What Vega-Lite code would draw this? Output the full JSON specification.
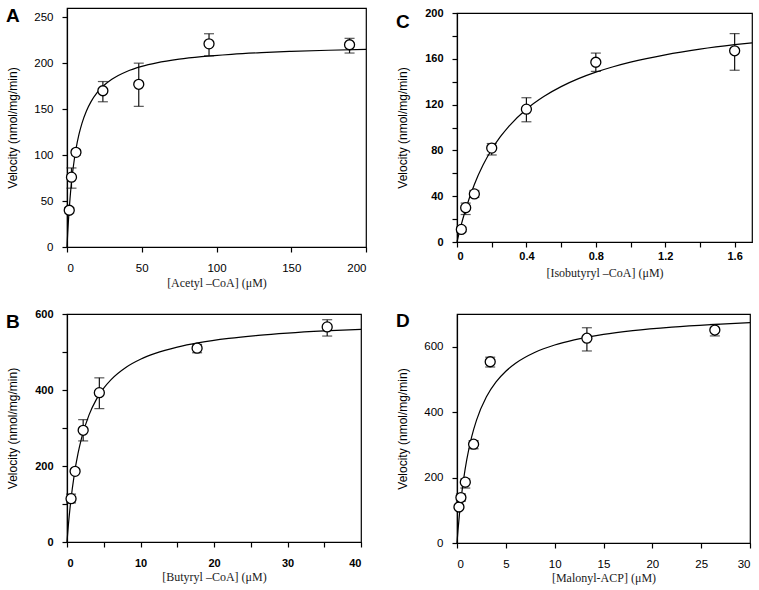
{
  "$schema": "https://vega.github.io/schema/vega-lite/v6.json",
  "background": "white",
  "padding": {"left": 5, "top": 6, "right": 5, "bottom": 4},
  "columns": 2,
  "spacing": {"column": 91, "row": 67},
  "bounds": "flush",
  "center": {"row": true},
  "config": {
    "view": {"stroke": "black", "strokeWidth": 1.2},
    "axis": {"grid": false, "domainColor": "black", "domainWidth": 1.2, "tickColor": "black", "tickWidth": 1.2, "tickSize": 5, "labelColor": "black", "titleColor": "black", "labelFont": "Liberation Sans", "labelFontSize": 11.5, "titleFontWeight": "normal", "labelOverlap": false},
    "axisX": {"titleFont": "Liberation Serif", "titleFontSize": 12, "titleColor": "#1a1a1a"},
    "axisY": {"titleFont": "Liberation Sans", "titleFontSize": 12, "labelPadding": 9, "minExtent": 40, "maxExtent": 40, "titlePadding": 8},
    "title": {"font": "Liberation Sans", "fontSize": 19, "fontWeight": "bold", "anchor": "start", "frame": "bounds", "baseline": "alphabetic", "color": "black"}
  },
  "datasets": {
    "ptsA": [
      {"x": 1.5, "y": 40, "lo": 37, "hi": 43},
      {"x": 3, "y": 76, "lo": 64, "hi": 86},
      {"x": 6, "y": 103, "lo": 100, "hi": 106},
      {"x": 24, "y": 170, "lo": 158, "hi": 180},
      {"x": 48, "y": 177, "lo": 153, "hi": 200},
      {"x": 95, "y": 221, "lo": 208, "hi": 232},
      {"x": 189, "y": 220, "lo": 211, "hi": 227}
    ],
    "fitA": [
      {"x": 0, "y": 0}, {"x": 0.5, "y": 15.86}, {"x": 1, "y": 29.6}, {"x": 2, "y": 52.24}, {"x": 3, "y": 70.1},
      {"x": 4, "y": 84.57}, {"x": 6, "y": 106.56}, {"x": 8, "y": 122.48}, {"x": 10, "y": 134.55}, {"x": 13, "y": 148.0},
      {"x": 16, "y": 157.87}, {"x": 20, "y": 167.55}, {"x": 25, "y": 176.19}, {"x": 30, "y": 182.47}, {"x": 40, "y": 190.97},
      {"x": 50, "y": 196.46}, {"x": 60, "y": 200.3}, {"x": 75, "y": 204.29}, {"x": 90, "y": 207.05}, {"x": 110, "y": 209.61},
      {"x": 130, "y": 211.43}, {"x": 150, "y": 212.78}, {"x": 175, "y": 214.05}, {"x": 200, "y": 215.01}
    ],
    "ptsC": [
      {"x": 0.025, "y": 11, "lo": 9, "hi": 13},
      {"x": 0.05, "y": 30, "lo": 24, "hi": 34},
      {"x": 0.1, "y": 42, "lo": 39, "hi": 45},
      {"x": 0.2, "y": 82, "lo": 76, "hi": 86},
      {"x": 0.4, "y": 116, "lo": 105, "hi": 126},
      {"x": 0.8, "y": 157, "lo": 149, "hi": 165},
      {"x": 1.6, "y": 167, "lo": 150, "hi": 182}
    ],
    "fitC": [
      {"x": 0, "y": 0}, {"x": 0.02, "y": 12.5}, {"x": 0.05, "y": 28.64}, {"x": 0.1, "y": 50.27}, {"x": 0.15, "y": 67.19},
      {"x": 0.2, "y": 80.79}, {"x": 0.25, "y": 91.95}, {"x": 0.3, "y": 101.28}, {"x": 0.4, "y": 116.0}, {"x": 0.5, "y": 127.07},
      {"x": 0.6, "y": 135.71}, {"x": 0.7, "y": 142.64}, {"x": 0.8, "y": 148.31}, {"x": 0.9, "y": 153.05}, {"x": 1.0, "y": 157.07},
      {"x": 1.2, "y": 163.5}, {"x": 1.4, "y": 168.43}, {"x": 1.6, "y": 172.32}, {"x": 1.7, "y": 173.98}
    ],
    "ptsB": [
      {"x": 0.55, "y": 114, "lo": 103, "hi": 126},
      {"x": 1.1, "y": 186, "lo": 180, "hi": 192},
      {"x": 2.2, "y": 294, "lo": 266, "hi": 322},
      {"x": 4.4, "y": 393, "lo": 351, "hi": 432},
      {"x": 17.7, "y": 510, "lo": 498, "hi": 520},
      {"x": 35.4, "y": 566, "lo": 542, "hi": 585}
    ],
    "fitB": [
      {"x": 0, "y": 0}, {"x": 0.2, "y": 47.17}, {"x": 0.5, "y": 105.34}, {"x": 1, "y": 178.85}, {"x": 1.5, "y": 233.07},
      {"x": 2, "y": 274.71}, {"x": 3, "y": 334.46}, {"x": 4, "y": 375.28}, {"x": 5, "y": 404.92}, {"x": 6, "y": 427.44},
      {"x": 8, "y": 459.36}, {"x": 10, "y": 480.91}, {"x": 12, "y": 496.44}, {"x": 15, "y": 513.0}, {"x": 18, "y": 524.67},
      {"x": 22, "y": 535.75}, {"x": 26, "y": 543.7}, {"x": 30, "y": 549.67}, {"x": 35, "y": 555.35}, {"x": 40, "y": 559.68}
    ],
    "ptsD": [
      {"x": 0.2, "y": 110, "lo": 104, "hi": 116},
      {"x": 0.4, "y": 139, "lo": 128, "hi": 150},
      {"x": 0.85, "y": 186, "lo": 168, "hi": 196},
      {"x": 1.7, "y": 302, "lo": 288, "hi": 313},
      {"x": 3.4, "y": 554, "lo": 538, "hi": 568},
      {"x": 13.3, "y": 626, "lo": 587, "hi": 658},
      {"x": 26.4, "y": 651, "lo": 633, "hi": 668}
    ],
    "fitD": [
      {"x": 0, "y": 0}, {"x": 0.1, "y": 37.58}, {"x": 0.2, "y": 71.4}, {"x": 0.4, "y": 129.82}, {"x": 0.7, "y": 199.92},
      {"x": 1, "y": 255.0}, {"x": 1.5, "y": 324.55}, {"x": 2, "y": 375.79}, {"x": 3, "y": 446.25}, {"x": 4, "y": 492.41},
      {"x": 5, "y": 525.0}, {"x": 6, "y": 549.23}, {"x": 8, "y": 582.86}, {"x": 10, "y": 605.08}, {"x": 12, "y": 620.87},
      {"x": 15, "y": 637.5}, {"x": 18, "y": 649.09}, {"x": 22, "y": 660.0}, {"x": 26, "y": 667.77}, {"x": 30, "y": 673.58}
    ]
  },
  "concat": [
    {
      "width": 299, "height": 239,
      "title": {"text": "A", "offset": -18},
      "encoding": {
        "x": {"field": "x", "type": "quantitative", "scale": {"domain": [0, 200], "nice": false},
              "axis": {"title": "[Acetyl –CoA] (μM)", "values": [0, 50, 100, 150, 200], "labelPadding": 10, "titlePadding": 4}},
        "y": {"field": "y", "type": "quantitative", "scale": {"domain": [0, 260], "nice": false},
              "axis": {"title": "Velocity (nmol/mg/min)", "values": [0, 50, 100, 150, 200, 250]}}
      },
      "layer": [
        {"data": {"name": "ptsA"}, "mark": {"type": "rule", "color": "#111", "strokeWidth": 1.2},
         "encoding": {"y": {"field": "lo", "type": "quantitative", "scale": {"domain": [0, 260], "nice": false}, "title": "Velocity (nmol/mg/min)"}, "y2": {"field": "hi"}}},
        {"data": {"name": "ptsA"}, "mark": {"type": "tick", "orient": "horizontal", "size": 10, "thickness": 1.2, "color": "#111"},
         "encoding": {"y": {"field": "lo", "type": "quantitative", "scale": {"domain": [0, 260], "nice": false}, "title": "Velocity (nmol/mg/min)"}}},
        {"data": {"name": "ptsA"}, "mark": {"type": "tick", "orient": "horizontal", "size": 10, "thickness": 1.2, "color": "#111"},
         "encoding": {"y": {"field": "hi", "type": "quantitative", "scale": {"domain": [0, 260], "nice": false}, "title": "Velocity (nmol/mg/min)"}}},
        {"data": {"name": "fitA"}, "mark": {"type": "line", "color": "black", "strokeWidth": 1.2, "interpolate": "monotone"}, "encoding": {}},
        {"data": {"name": "ptsA"}, "mark": {"type": "point", "shape": "circle", "filled": false, "fill": "white", "fillOpacity": 1, "stroke": "black", "strokeWidth": 1.3, "size": 100, "opacity": 1}, "encoding": {}}
      ]
    },
    {
      "width": 295, "height": 229,
      "title": {"text": "C", "offset": -25},
      "encoding": {
        "x": {"field": "x", "type": "quantitative", "scale": {"domain": [0, 1.7], "nice": false},
              "axis": {"title": "[Isobutyryl –CoA] (μM)", "values": [0, 0.2, 0.4, 0.6, 0.8, 1.0, 1.2, 1.4, 1.6], "labelExpr": "round(datum.value*10) % 4 === 0 ? format(datum.value, '~g') : ''", "labelFontWeight": "bold", "labelFontSize": 11, "labelPadding": 3, "titlePadding": 6}},
        "y": {"field": "y", "type": "quantitative", "scale": {"domain": [0, 200], "nice": false},
              "axis": {"title": "Velocity (nmol/mg/min)", "values": [0, 20, 40, 60, 80, 100, 120, 140, 160, 180, 200], "labelExpr": "round(datum.value) % 40 === 0 ? datum.label : ''", "labelFontWeight": "bold", "labelFontSize": 11}}
      },
      "layer": [
        {"data": {"name": "ptsC"}, "mark": {"type": "rule", "color": "#111", "strokeWidth": 1.2},
         "encoding": {"y": {"field": "lo", "type": "quantitative", "scale": {"domain": [0, 200], "nice": false}, "title": "Velocity (nmol/mg/min)"}, "y2": {"field": "hi"}}},
        {"data": {"name": "ptsC"}, "mark": {"type": "tick", "orient": "horizontal", "size": 10, "thickness": 1.2, "color": "#111"},
         "encoding": {"y": {"field": "lo", "type": "quantitative", "scale": {"domain": [0, 200], "nice": false}, "title": "Velocity (nmol/mg/min)"}}},
        {"data": {"name": "ptsC"}, "mark": {"type": "tick", "orient": "horizontal", "size": 10, "thickness": 1.2, "color": "#111"},
         "encoding": {"y": {"field": "hi", "type": "quantitative", "scale": {"domain": [0, 200], "nice": false}, "title": "Velocity (nmol/mg/min)"}}},
        {"data": {"name": "fitC"}, "mark": {"type": "line", "color": "black", "strokeWidth": 1.2, "interpolate": "monotone"}, "encoding": {}},
        {"data": {"name": "ptsC"}, "mark": {"type": "point", "shape": "circle", "filled": false, "fill": "white", "fillOpacity": 1, "stroke": "black", "strokeWidth": 1.3, "size": 100, "opacity": 1}, "encoding": {}}
      ]
    },
    {
      "width": 294, "height": 228,
      "title": {"text": "B", "offset": -24},
      "encoding": {
        "x": {"field": "x", "type": "quantitative", "scale": {"domain": [0, 40], "nice": false},
              "axis": {"title": "[Butyryl –CoA] (μM)", "values": [0, 5, 10, 15, 20, 25, 30, 35, 40], "labelExpr": "round(datum.value) % 10 === 0 ? datum.label : ''", "labelFontWeight": "bold", "labelFontSize": 11, "labelPadding": 10, "titlePadding": 3}},
        "y": {"field": "y", "type": "quantitative", "scale": {"domain": [0, 600], "nice": false},
              "axis": {"title": "Velocity (nmol/mg/min)", "values": [0, 100, 200, 300, 400, 500, 600], "labelExpr": "round(datum.value) % 200 === 0 ? datum.label : ''", "labelFontWeight": "bold", "labelFontSize": 11}}
      },
      "layer": [
        {"data": {"name": "ptsB"}, "mark": {"type": "rule", "color": "#111", "strokeWidth": 1.2},
         "encoding": {"y": {"field": "lo", "type": "quantitative", "scale": {"domain": [0, 600], "nice": false}, "title": "Velocity (nmol/mg/min)"}, "y2": {"field": "hi"}}},
        {"data": {"name": "ptsB"}, "mark": {"type": "tick", "orient": "horizontal", "size": 10, "thickness": 1.2, "color": "#111"},
         "encoding": {"y": {"field": "lo", "type": "quantitative", "scale": {"domain": [0, 600], "nice": false}, "title": "Velocity (nmol/mg/min)"}}},
        {"data": {"name": "ptsB"}, "mark": {"type": "tick", "orient": "horizontal", "size": 10, "thickness": 1.2, "color": "#111"},
         "encoding": {"y": {"field": "hi", "type": "quantitative", "scale": {"domain": [0, 600], "nice": false}, "title": "Velocity (nmol/mg/min)"}}},
        {"data": {"name": "fitB"}, "mark": {"type": "line", "color": "black", "strokeWidth": 1.2, "interpolate": "monotone"}, "encoding": {}},
        {"data": {"name": "ptsB"}, "mark": {"type": "point", "shape": "circle", "filled": false, "fill": "white", "fillOpacity": 1, "stroke": "black", "strokeWidth": 1.3, "size": 100, "opacity": 1}, "encoding": {}}
      ]
    },
    {
      "width": 293, "height": 229,
      "title": {"text": "D", "offset": -17},
      "encoding": {
        "x": {"field": "x", "type": "quantitative", "scale": {"domain": [0, 30], "nice": false},
              "axis": {"title": "[Malonyl-ACP] (μM)", "values": [0, 5, 10, 15, 20, 25, 30], "labelPadding": 10, "titlePadding": 3}},
        "y": {"field": "y", "type": "quantitative", "scale": {"domain": [0, 700], "nice": false},
              "axis": {"title": "Velocity (nmol/mg/min)", "values": [0, 200, 400, 600]}}
      },
      "layer": [
        {"data": {"name": "ptsD"}, "mark": {"type": "rule", "color": "#111", "strokeWidth": 1.2},
         "encoding": {"y": {"field": "lo", "type": "quantitative", "scale": {"domain": [0, 700], "nice": false}, "title": "Velocity (nmol/mg/min)"}, "y2": {"field": "hi"}}},
        {"data": {"name": "ptsD"}, "mark": {"type": "tick", "orient": "horizontal", "size": 10, "thickness": 1.2, "color": "#111"},
         "encoding": {"y": {"field": "lo", "type": "quantitative", "scale": {"domain": [0, 700], "nice": false}, "title": "Velocity (nmol/mg/min)"}}},
        {"data": {"name": "ptsD"}, "mark": {"type": "tick", "orient": "horizontal", "size": 10, "thickness": 1.2, "color": "#111"},
         "encoding": {"y": {"field": "hi", "type": "quantitative", "scale": {"domain": [0, 700], "nice": false}, "title": "Velocity (nmol/mg/min)"}}},
        {"data": {"name": "fitD"}, "mark": {"type": "line", "color": "black", "strokeWidth": 1.2, "interpolate": "monotone"}, "encoding": {}},
        {"data": {"name": "ptsD"}, "mark": {"type": "point", "shape": "circle", "filled": false, "fill": "white", "fillOpacity": 1, "stroke": "black", "strokeWidth": 1.3, "size": 100, "opacity": 1}, "encoding": {}}
      ]
    }
  ]
}
